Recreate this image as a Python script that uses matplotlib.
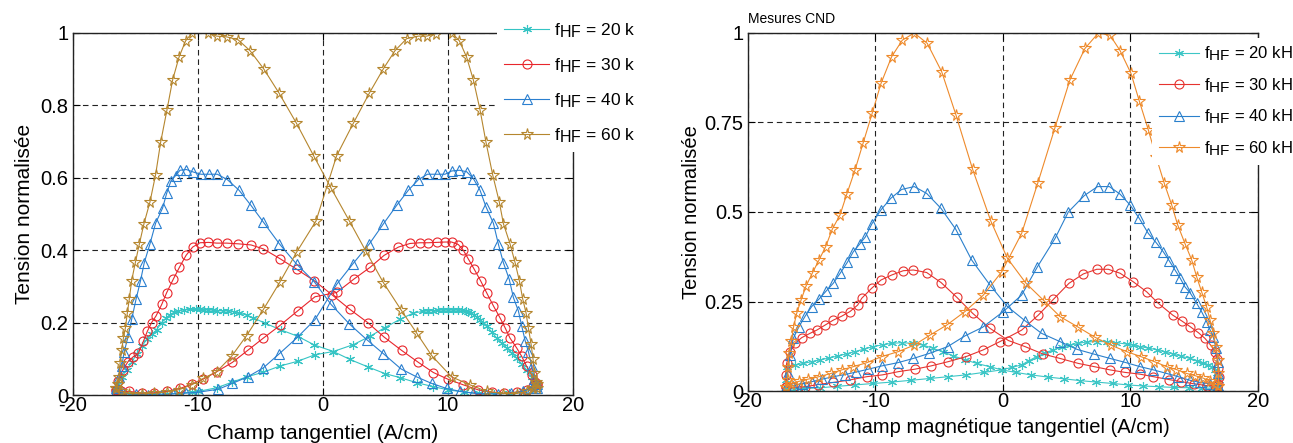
import matplotlib
matplotlib.use("Agg")
import matplotlib.pyplot as plt
from matplotlib.ticker import FormatStrFormatter

plt.rcParams['font.family'] = ['Liberation Sans', 'DejaVu Sans']
plt.rcParams['mathtext.fontset'] = 'custom'
plt.rcParams['mathtext.rm'] = 'Liberation Sans'
plt.rcParams['mathtext.it'] = 'Liberation Sans:italic'
plt.rcParams['axes.unicode_minus'] = False

# subscripts in the original are almost as big as the main text
try:
    import matplotlib._mathtext as _mt
    _mt.SHRINK_FACTOR = 0.92
except Exception:
    pass

# ---------------- left panel data (branch a: peak at H<0, branch b: peak at H>0)
l60_a_h = [-16.6, -16.4, -16.3, -16.24, -16.1, -15.97, -15.81, -15.65, -15.49, -15.31, -15.01, -14.69, -14.32,
           -13.84, -13.39, -12.99, -12.48, -12.03, -11.52, -10.99, -10.45, -9.23, -8.51, -7.71, -6.8, -5.84, -4.75,
           -3.52, -2.13, -0.75, 0.64, 2.11, 3.44, 4.83, 6.24, 7.49, 8.69, 10.29, 11.76, 13.1, 14.4, 15.5, 16.3,
           16.8, 17.1]
l60_a_v = [0.02, 0.03, 0.05, 0.087, 0.124, 0.157, 0.185, 0.227, 0.266, 0.315, 0.366, 0.417, 0.473, 0.533, 0.608,
           0.697, 0.787, 0.869, 0.932, 0.977, 1.0, 1.0, 0.99, 0.988, 0.98, 0.95, 0.9, 0.833, 0.75, 0.66, 0.571, 0.48,
           0.396, 0.31, 0.235, 0.171, 0.109, 0.05, 0.028, 0.01, 0.004, 0.004, 0.01, 0.02, 0.03]
l60_b_h = [-16.6, -16.2, -15.5, -14.5, -13.5, -12.5, -11.5, -10.5, -9.57, -8.51, -7.31, -6.11, -4.77, -3.44, -2.11,
           -0.56, 1.09, 2.43, 3.71, 4.83, 5.76, 6.69, 7.63, 8.3, 9.04, 10.29, 10.91, 11.49, 12.03, 12.56, 13.04,
           13.57, 14.1, 14.43, 14.96, 15.36, 15.71, 15.97, 16.24, 16.43, 16.64, 16.8, 16.9, 17.0, 17.1]
l60_b_v = [0.02, 0.01, 0.004, 0.003, 0.005, 0.008, 0.015, 0.028, 0.046, 0.064, 0.107, 0.164, 0.236, 0.312, 0.394,
           0.48, 0.66, 0.75, 0.833, 0.9, 0.95, 0.983, 0.99, 0.99, 0.997, 1.0, 0.977, 0.932, 0.869, 0.787, 0.697,
           0.608, 0.533, 0.473, 0.417, 0.366, 0.315, 0.266, 0.227, 0.185, 0.142, 0.1, 0.06, 0.035, 0.02]

l40_a_h = [-16.6, -16.5, -16.3, -16.1, -15.9, -15.6, -15.3, -14.95, -14.6, -14.3, -13.85, -13.39, -12.83, -12.51,
           -12.16, -11.8, -11.44, -10.93, -10.37, -9.76, -9.09, -8.45, -7.65, -6.72, -5.76, -4.77, -3.49, -2.11,
           -0.69, 0.64, 2.11, 3.49, 4.83, 6.24, 7.49, 8.69, 9.89, 10.96, 12.0, 13.0, 14.0, 15.0, 16.0, 16.7, 17.1]
l40_a_v = [0.01, 0.02, 0.05, 0.08, 0.12, 0.16, 0.21, 0.265, 0.315, 0.365, 0.416, 0.474, 0.516, 0.556, 0.591, 0.605,
           0.62, 0.622, 0.615, 0.609, 0.609, 0.609, 0.594, 0.565, 0.523, 0.477, 0.417, 0.361, 0.312, 0.25, 0.196,
           0.153, 0.114, 0.072, 0.05, 0.032, 0.018, 0.01, 0.005, 0.003, 0.003, 0.005, 0.01, 0.02, 0.03]
l40_b_h = [-16.6, -16.0, -15.0, -14.0, -13.0, -12.0, -11.0, -9.9, -8.37, -7.25, -6.03, -4.77, -3.49, -2.11, -0.64,
           1.09, 2.37, 3.71, 4.83, 5.89, 6.83, 7.63, 8.35, 9.09, 9.76, 10.29, 10.91, 11.49, 12.03, 12.56, 13.04,
           13.63, 14.03, 14.43, 14.9, 15.23, 15.63, 15.9, 16.17, 16.43, 16.7, 16.9, 17.0, 17.1]
l40_b_v = [0.02, 0.005, 0.002, 0.0, 0.0, 0.003, 0.005, 0.008, 0.016, 0.032, 0.05, 0.075, 0.114, 0.157, 0.208, 0.305,
           0.361, 0.417, 0.472, 0.523, 0.565, 0.594, 0.609, 0.609, 0.609, 0.618, 0.62, 0.616, 0.597, 0.565, 0.519,
           0.474, 0.416, 0.365, 0.319, 0.269, 0.232, 0.19, 0.15, 0.12, 0.08, 0.045, 0.025, 0.02]

l30_a_h = [-16.6, -16.4, -16.0, -15.6, -15.2, -14.77, -14.37, -14.05, -13.71, -13.36, -12.9, -12.51, -11.97, -11.49,
           -10.96, -10.43, -9.84, -9.17, -8.51, -7.71, -6.77, -5.76, -4.77, -3.44, -2.11, -0.69, 0.7, 2.16, 3.57,
           4.88, 6.29, 7.63, 8.83, 10.03, 11.23, 12.43, 13.5, 14.5, 15.5, 16.3, 16.8, 17.1]
l30_a_v = [0.015, 0.04, 0.07, 0.092, 0.105, 0.115, 0.148, 0.176, 0.2, 0.218, 0.25, 0.282, 0.32, 0.352, 0.385, 0.408,
           0.42, 0.421, 0.419, 0.419, 0.417, 0.414, 0.403, 0.376, 0.347, 0.315, 0.277, 0.236, 0.2, 0.16, 0.123,
           0.09, 0.062, 0.043, 0.028, 0.014, 0.008, 0.005, 0.008, 0.015, 0.025, 0.03]
l30_b_h = [-16.6, -16.2, -15.5, -14.5, -13.5, -12.5, -11.44, -10.5, -9.57, -8.51, -7.25, -6.03, -4.77, -3.44, -2.03,
           -0.64, 1.1, 2.48, 3.76, 4.88, 6.03, 6.96, 7.76, 8.43, 9.09, 9.76, 10.29, 10.83, 11.23, 11.63, 12.08,
           12.61, 13.09, 13.63, 14.16, 14.56, 14.96, 15.49, 15.89, 16.29, 16.69, 16.96, 17.1]
l30_b_v = [0.015, 0.01, 0.01, 0.005, 0.006, 0.01, 0.018, 0.03, 0.044, 0.064, 0.09, 0.123, 0.157, 0.192, 0.232,
           0.271, 0.283, 0.32, 0.352, 0.385, 0.408, 0.418, 0.42, 0.42, 0.421, 0.422, 0.422, 0.415, 0.399, 0.375,
           0.348, 0.315, 0.282, 0.246, 0.213, 0.186, 0.157, 0.13, 0.107, 0.079, 0.055, 0.035, 0.03]

l20_a_h = [-16.6, -16.4, -16.1, -15.7, -15.3, -14.9, -14.5, -14.05, -13.7, -13.31, -12.91, -12.57, -12.24, -11.9,
           -11.57, -11.1, -10.64, -10.2, -9.84, -9.5, -9.17, -8.84, -8.51, -8.0, -7.57, -7.15, -6.72, -6.1, -5.57,
           -4.64, -3.39, -2.03, -0.69, 0.83, 2.16, 3.63, 4.96, 6.16, 7.49, 8.83, 10.03, 11.3, 12.5, 13.7, 14.9,
           16.0, 16.7, 17.1]
l20_a_v = [0.01, 0.03, 0.05, 0.07, 0.09, 0.114, 0.135, 0.155, 0.167, 0.18, 0.2, 0.212, 0.222, 0.228, 0.232, 0.235,
           0.236, 0.236, 0.236, 0.235, 0.235, 0.234, 0.233, 0.232, 0.232, 0.23, 0.227, 0.22, 0.213, 0.198, 0.18,
           0.162, 0.138, 0.12, 0.098, 0.077, 0.059, 0.048, 0.034, 0.023, 0.014, 0.008, 0.005, 0.004, 0.005, 0.01,
           0.02, 0.03]
l20_b_h = [-16.6, -16.2, -15.5, -14.5, -13.5, -12.5, -11.5, -10.5, -9.97, -8.5, -7.3, -6.1, -4.77, -3.44, -2.03,
           -0.64, 0.83, 2.43, 3.76, 4.96, 6.16, 7.23, 8.03, 8.43, 8.83, 9.23, 9.63, 10.03, 10.43, 10.8, 11.1, 11.4,
           11.63, 11.85, 12.08, 12.3, 12.56, 12.8, 13.09, 13.49, 13.89, 14.29, 14.69, 15.09, 15.49, 15.89, 16.29,
           16.69, 17.0, 17.1]
l20_b_v = [0.01, 0.005, 0.003, 0.002, 0.002, 0.003, 0.005, 0.008, 0.01, 0.02, 0.035, 0.05, 0.063, 0.08, 0.093,
           0.111, 0.12, 0.139, 0.162, 0.186, 0.209, 0.226, 0.231, 0.232, 0.233, 0.234, 0.234, 0.234, 0.234, 0.234,
           0.234, 0.232, 0.229, 0.226, 0.222, 0.215, 0.208, 0.2, 0.19, 0.174, 0.157, 0.143, 0.13, 0.116, 0.102,
           0.086, 0.069, 0.05, 0.035, 0.03]

# ---------------- right panel data (Mesures CND)
r60_a_h = [-17.0, -16.9, -16.85, -16.8, -16.6, -16.42, -16.18, -15.84, -15.45, -14.93, -14.43, -13.91, -13.39,
           -12.78, -12.26, -11.61, -10.96, -10.25, -9.57, -8.73, -7.9, -6.96, -5.94, -4.81, -3.69, -2.38, -0.97,
           0.34, 1.8, 3.22, 4.47, 5.91, 7.22, 8.47, 9.7, 10.82, 11.87, 12.84, 13.6, 14.4, 15.05, 15.7, 16.2, 16.6,
           16.9]
r60_a_v = [0.01, 0.03, 0.068, 0.105, 0.14, 0.18, 0.217, 0.254, 0.293, 0.331, 0.366, 0.403, 0.452, 0.492, 0.549,
           0.617, 0.694, 0.777, 0.859, 0.934, 0.98, 1.0, 0.971, 0.892, 0.771, 0.619, 0.476, 0.371, 0.301, 0.252,
           0.208, 0.178, 0.15, 0.128, 0.11, 0.096, 0.082, 0.068, 0.06, 0.049, 0.043, 0.036, 0.028, 0.02, 0.015]
r60_b_h = [-17.0, -16.6, -16.0, -15.3, -14.43, -13.49, -12.65, -11.74, -10.69, -9.52, -8.21, -6.98, -5.73, -4.42,
           -2.98, -1.54, -0.1, 1.46, 2.72, 4.08, 5.25, 6.43, 7.48, 8.39, 9.18, 10.04, 10.69, 11.4, 12.0, 12.65,
           13.23, 13.7, 14.27, 14.8, 15.19, 15.58, 15.97, 16.24, 16.5, 16.7, 16.85, 16.9, 16.9]
r60_b_v = [0.01, 0.02, 0.027, 0.033, 0.04, 0.049, 0.059, 0.068, 0.079, 0.096, 0.11, 0.128, 0.156, 0.184, 0.222,
           0.268, 0.333, 0.44, 0.58, 0.736, 0.869, 0.957, 1.0, 0.994, 0.951, 0.887, 0.81, 0.729, 0.655, 0.58, 0.52,
           0.464, 0.412, 0.366, 0.319, 0.277, 0.235, 0.198, 0.161, 0.124, 0.087, 0.05, 0.015]

r40_a_h = [-17.0, -16.9, -16.7, -16.45, -16.0, -15.5, -15.0, -14.4, -13.85, -13.31, -12.75, -12.2, -11.74, -11.25,
           -10.8, -10.3, -9.57, -8.81, -7.95, -6.96, -5.99, -4.86, -3.71, -2.46, -1.02, 0.34, 1.73, 3.03, 4.47, 5.83,
           7.14, 8.39, 9.57, 10.75, 11.8, 12.84, 13.75, 14.66, 15.45, 16.2, 16.8, 16.9]
r40_a_v = [0.01, 0.05, 0.1, 0.147, 0.18, 0.21, 0.236, 0.258, 0.28, 0.301, 0.33, 0.36, 0.389, 0.41, 0.43, 0.466,
           0.506, 0.538, 0.563, 0.571, 0.552, 0.51, 0.452, 0.366, 0.296, 0.236, 0.196, 0.161, 0.138, 0.116, 0.103,
           0.091, 0.08, 0.068, 0.059, 0.049, 0.04, 0.03, 0.024, 0.02, 0.015, 0.015]
r40_b_h = [-17.0, -16.5, -15.8, -15.0, -14.2, -13.3, -12.4, -11.5, -10.56, -9.52, -8.26, -7.03, -5.78, -4.34, -2.98,
           -1.6, 0.03, 1.46, 2.7, 4.08, 5.12, 6.38, 7.42, 8.34, 9.18, 9.96, 10.69, 11.4, 12.0, 12.57, 13.05, 13.49,
           13.9, 14.27, 14.7, 15.19, 15.6, 15.97, 16.25, 16.5, 16.7, 16.85, 16.9, 16.9]
r40_b_v = [0.01, 0.015, 0.02, 0.026, 0.033, 0.04, 0.046, 0.053, 0.061, 0.07, 0.079, 0.091, 0.105, 0.124, 0.154,
           0.178, 0.222, 0.268, 0.347, 0.426, 0.5, 0.546, 0.571, 0.571, 0.55, 0.52, 0.482, 0.44, 0.415, 0.389,
           0.363, 0.338, 0.315, 0.291, 0.273, 0.245, 0.22, 0.194, 0.17, 0.15, 0.12, 0.08, 0.05, 0.015]

r30_a_h = [-17.0, -17.05, -16.97, -16.7, -16.31, -15.79, -15.14, -14.61, -13.96, -13.31, -12.65, -12.0, -11.4,
           -11.08, -10.3, -9.57, -8.73, -7.82, -7.03, -5.99, -4.86, -3.63, -2.38, -1.02, 0.42, 1.73, 3.16, 4.47,
           5.91, 7.16, 8.39, 9.57, 10.75, 11.8, 13.0, 14.0, 15.0, 16.0, 16.8]
r30_a_v = [0.01, 0.045, 0.077, 0.11, 0.133, 0.149, 0.161, 0.17, 0.184, 0.198, 0.209, 0.222, 0.24, 0.259, 0.287,
           0.31, 0.324, 0.336, 0.338, 0.331, 0.303, 0.262, 0.217, 0.175, 0.141, 0.124, 0.103, 0.091, 0.077, 0.068,
           0.059, 0.052, 0.047, 0.04, 0.032, 0.026, 0.02, 0.015, 0.015]
r30_b_h = [-17.0, -16.5, -15.5, -14.5, -13.3, -12.0, -10.69, -9.46, -8.21, -6.9, -5.65, -4.29, -2.9, -1.54, -0.24,
           1.46, 2.77, 3.95, 5.18, 6.3, 7.35, 8.26, 9.18, 10.22, 11.27, 12.18, 13.31, 14.01, 14.67, 15.32, 15.84,
           16.29, 16.63, 16.8, 16.9, 16.95, 16.9, 16.8]
r30_b_v = [0.01, 0.01, 0.012, 0.018, 0.024, 0.031, 0.04, 0.045, 0.054, 0.061, 0.07, 0.082, 0.096, 0.115, 0.138,
           0.17, 0.212, 0.256, 0.301, 0.327, 0.34, 0.34, 0.329, 0.305, 0.277, 0.245, 0.212, 0.196, 0.18, 0.163,
           0.147, 0.128, 0.11, 0.09, 0.065, 0.04, 0.02, 0.015]

r20_a_h = [-17.0, -17.0, -16.97, -16.3, -15.66, -15.0, -14.35, -13.65, -12.92, -12.25, -11.61, -10.9, -10.17, -9.45,
           -8.73, -7.95, -7.03, -6.25, -5.47, -4.7, -3.9, -2.95, -2.06, -1.05, -0.1, 1.0, 2.2, 3.5, 4.8, 6.04, 7.3,
           8.6, 9.8, 11.0, 12.2, 13.4, 14.6, 15.6, 16.5, 16.9]
r20_a_v = [0.005, 0.03, 0.068, 0.072, 0.077, 0.082, 0.087, 0.092, 0.098, 0.104, 0.11, 0.117, 0.124, 0.129, 0.133,
           0.135, 0.133, 0.128, 0.119, 0.109, 0.098, 0.087, 0.077, 0.068, 0.059, 0.052, 0.045, 0.039, 0.034, 0.029,
           0.025, 0.021, 0.017, 0.014, 0.012, 0.01, 0.009, 0.008, 0.008, 0.01]
r20_b_h = [-17.0, -16.4, -15.6, -14.35, -13.0, -11.6, -10.17, -8.7, -7.2, -5.73, -4.3, -2.9, -1.5, -0.1, 0.7, 1.46,
           2.05, 2.64, 3.3, 3.95, 4.6, 5.25, 5.9, 6.56, 7.35, 8.13, 8.9, 9.7, 10.2, 10.75, 11.4, 12.05, 12.7, 13.36,
           14.0, 14.67, 15.2, 15.71, 16.05, 16.37, 16.6, 16.8, 16.95, 16.9]
r20_b_v = [0.005, 0.006, 0.007, 0.009, 0.013, 0.017, 0.021, 0.025, 0.03, 0.035, 0.04, 0.045, 0.052, 0.059, 0.066,
           0.073, 0.085, 0.096, 0.106, 0.115, 0.122, 0.128, 0.133, 0.137, 0.138, 0.138, 0.135, 0.131, 0.128, 0.124,
           0.12, 0.115, 0.109, 0.103, 0.097, 0.091, 0.085, 0.079, 0.074, 0.068, 0.06, 0.05, 0.03, 0.01]

labels_left = ['f$_{\\mathrm{HF}}$ = 20 k', 'f$_{\\mathrm{HF}}$ = 30 k', 'f$_{\\mathrm{HF}}$ = 40 k',
               'f$_{\\mathrm{HF}}$ = 60 k']
labels_right = ['f$_{\\mathrm{HF}}$ = 20 kHz', 'f$_{\\mathrm{HF}}$ = 30 kHz', 'f$_{\\mathrm{HF}}$ = 40 kHz',
                'f$_{\\mathrm{HF}}$ = 60 kHz']

markers = [dict(marker=(6, 2, 0), ms=6.5), dict(marker='o', ms=6.5, mfc='none'),
           dict(marker='^', ms=7.5, mfc='none'), dict(marker='*', ms=8.5, mfc='none')]
colors_left = ['#35c4c4', '#e8262c', '#2a7fcf', '#b5862e']
colors_right = ['#3dc6c6', '#e6332f', '#2b80cc', '#ee8a2b']

fig = plt.figure(figsize=(12.93, 4.43), dpi=100)
ax1 = fig.add_axes([0.05646, 0.10835, 0.38670, 0.81828])
ax2 = fig.add_axes([0.5785, 0.11738, 0.39443, 0.80813])

left_series = [(l20_a_h, l20_a_v, l20_b_h, l20_b_v), (l30_a_h, l30_a_v, l30_b_h, l30_b_v),
               (l40_a_h, l40_a_v, l40_b_h, l40_b_v), (l60_a_h, l60_a_v, l60_b_h, l60_b_v)]
right_series = [(r20_a_h, r20_a_v, r20_b_h, r20_b_v), (r30_a_h, r30_a_v, r30_b_h, r30_b_v),
                (r40_a_h, r40_a_v, r40_b_h, r40_b_v), (r60_a_h, r60_a_v, r60_b_h, r60_b_v)]


def draw(ax, series, colors, labels):
    for (ha, va, hb, vb), c, m, lab in zip(series, colors, markers, labels):
        ax.plot(ha, va, color=c, lw=0.8, mew=0.8, mec=c, label=lab, **m)
        ax.plot(hb, vb, color=c, lw=0.8, mew=0.8, mec=c, **m)
    ax.set_xlim(-20, 20)
    ax.set_ylim(0, 1)
    ax.set_xticks([-20, -10, 0, 10, 20])
    ax.grid(True, color='#222222', ls=(0, (5, 3.5)), lw=0.8)
    ax.tick_params(direction='in', top=True, right=True, length=5, labelsize=14.5)
    ax.tick_params(axis='x', pad=1)
    ax.tick_params(axis='y', pad=3.5)
    ax.yaxis.set_major_formatter(FormatStrFormatter('%g'))
    for s in ax.spines.values():
        s.set_linewidth(1.0)
        s.set_color('#222222')


draw(ax1, left_series, colors_left, labels_left)
ax1.set_yticks([0, 0.2, 0.4, 0.6, 0.8, 1])
ax1.set_xlabel('Champ tangentiel (A/cm)', fontsize=15, labelpad=6)
ax1.set_ylabel('Tension normalisée', fontsize=15, labelpad=4.5)
leg1 = ax1.legend(loc='upper left', bbox_to_anchor=(497 / 1293, 1 - 14 / 443), bbox_transform=fig.transFigure,
                  borderaxespad=0, frameon=True, fancybox=False, edgecolor='none', facecolor='white',
                  framealpha=1, fontsize=12.5, handlelength=2.6, handletextpad=0.3, labelspacing=0.95,
                  borderpad=0.4)

draw(ax2, right_series, colors_right, labels_right)
ax2.set_yticks([0, 0.25, 0.5, 0.75, 1])
ax2.set_xlabel('Champ magnétique tangentiel (A/cm)', fontsize=14.5, labelpad=4.5)
ax2.set_ylabel('Tension normalisée', fontsize=14.5, labelpad=2.3)
ax2.set_title('Mesures CND', loc='left', fontsize=10, pad=7)
leg2 = ax2.legend(loc='upper left', bbox_to_anchor=(1152 / 1293, 1 - 38 / 443), bbox_transform=fig.transFigure,
                  borderaxespad=0, frameon=True, fancybox=False, edgecolor='none', facecolor='white',
                  framealpha=1, fontsize=12, handlelength=2.4, handletextpad=0.3, labelspacing=0.77,
                  borderpad=0.4)

fig.savefig('out.png', dpi=100)
